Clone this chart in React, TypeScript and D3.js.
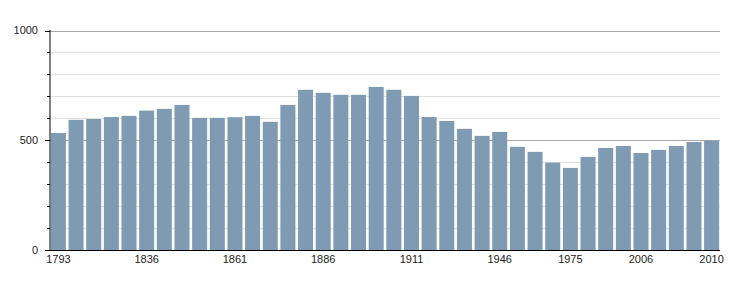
import React from "react";
import * as d3 from "d3";

const years = [
  "1793", "1800", "1806", "1821", "1831", "1836", "1841", "1846", "1851", "1856",
  "1861", "1866", "1872", "1876", "1881", "1886", "1891", "1896", "1901", "1906",
  "1911", "1921", "1926", "1931", "1936", "1946", "1954", "1962", "1968", "1975",
  "1982", "1990", "1999", "2006", "2007", "2008", "2009", "2010",
];
const population = [
  533, 593, 597, 606, 611, 635, 643, 661, 602, 602,
  605, 611, 584, 661, 730, 716, 707, 707, 743, 730,
  702, 606, 588, 552, 520, 538, 470, 447, 398, 374,
  424, 465, 474, 442, 456, 474, 492, 498,
];
const labelledYears = ["1793", "1836", "1861", "1886", "1911", "1946", "1975", "2006", "2010"];
const yMajor = [0, 500, 1000];
const yMinor = [100, 200, 300, 400, 600, 700, 800, 900];

export default function App() {
  const W = 750, H = 300;
  const left = 50, right = 720, top = 30.5, bottom = 250;
  const x = d3.scaleBand<string>().domain(years).range([left, right]).paddingInner(0.15).paddingOuter(0.05);
  const y = d3.scaleLinear().domain([0, 1000]).range([bottom, top]);
  const font = "Liberation Sans, Arial, sans-serif";
  return (
    <svg width={W} height={H} style={{ position: "absolute", left: 0, top: 0 }} fontFamily={font}>
      {yMinor.map((v) => (
        <line key={"g" + v} x1={left} x2={right} y1={Math.round(y(v)) + 0.5} y2={Math.round(y(v)) + 0.5} stroke="#e0e0e0" strokeWidth={1} />
      ))}
      {yMajor.filter((v) => v > 0).map((v) => (
        <line key={"G" + v} x1={left} x2={right} y1={Math.round(y(v)) + 0.5} y2={Math.round(y(v)) + 0.5} stroke="#aaaaaa" strokeWidth={1} />
      ))}
      {years.map((yr, i) => (
        <rect key={yr} x={x(yr)} y={y(population[i])} width={x.bandwidth()} height={bottom - y(population[i])} fill="#7f9ab3" />
      ))}
      <line x1={left} x2={left} y1={top - 0.5} y2={bottom} stroke="#000" strokeWidth={1} />
      <line x1={left} x2={right} y1={bottom + 0.5} y2={bottom + 0.5} stroke="#000" strokeWidth={1} />
      {yMinor.map((v) => (
        <line key={"t" + v} x1={left - 3} x2={left} y1={Math.round(y(v)) + 0.5} y2={Math.round(y(v)) + 0.5} stroke="#000" strokeWidth={1} />
      ))}
      {yMajor.map((v) => (
        <g key={"T" + v}>
          <line x1={left - 5} x2={left} y1={Math.round(y(v)) + 0.5} y2={Math.round(y(v)) + 0.5} stroke="#000" strokeWidth={1} />
          <text x={left - 12} y={y(v)} dy="0.35em" textAnchor="end" fontSize={11} fill="#222">{v}</text>
        </g>
      ))}
      {labelledYears.map((yr) => (
        <text key={"x" + yr} x={(x(yr) as number) + x.bandwidth() / 2} y={263} textAnchor="middle" fontSize={11} fill="#222">{yr}</text>
      ))}
    </svg>
  );
}
